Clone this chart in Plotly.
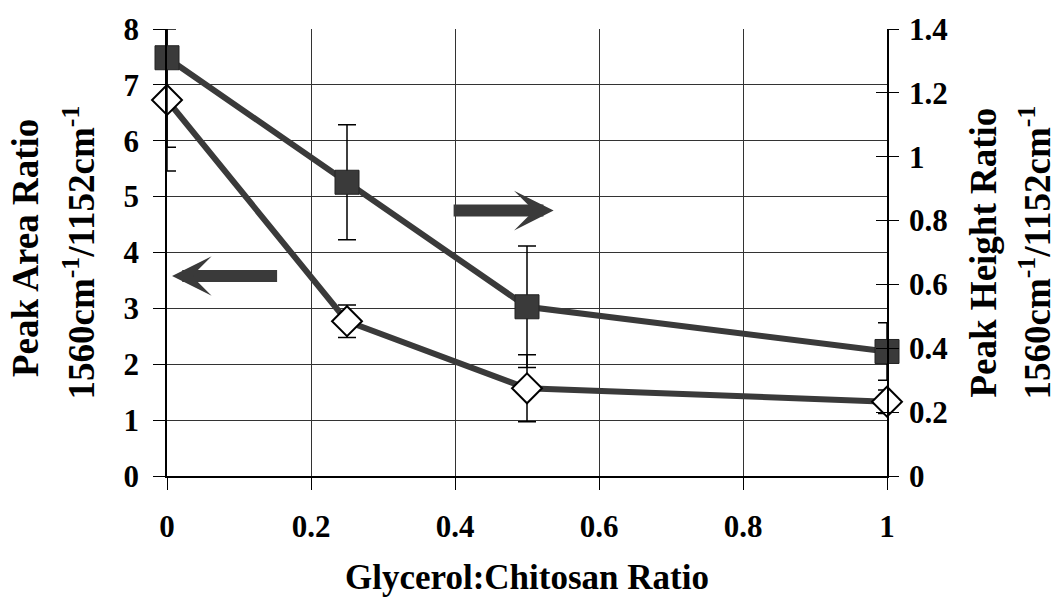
import plotly.graph_objects as go

# Data
ratio = [0, 0.25, 0.5, 1]
area_ratio = [6.73, 2.77, 1.57, 1.33]
area_err = [1.27, 0.29, 0.60, 0.21]
height_ratio = [1.31, 0.92, 0.53, 0.39]
height_err = [0.28, 0.18, 0.19, 0.09]

x_ticks = [0, 0.2, 0.4, 0.6, 0.8, 1]
x_tick_labels = ["0", "0.2", "0.4", "0.6", "0.8", "1"]

FONT = "Liberation Serif"
DARK = "#3a3a3a"

fig = go.Figure()

fig.add_trace(go.Scatter(
    x=ratio, y=area_ratio, mode="lines+markers", yaxis="y",
    line=dict(color=DARK, width=6),
    marker=dict(symbol="diamond", size=23, color="white",
                line=dict(color="black", width=2)),
    error_y=dict(type="data", array=area_err, visible=True,
                 color="black", thickness=1.5, width=9),
    cliponaxis=False, showlegend=False,
))

fig.add_trace(go.Scatter(
    x=ratio, y=height_ratio, mode="lines+markers", yaxis="y2",
    line=dict(color=DARK, width=6),
    marker=dict(symbol="square", size=24, color=DARK,
                line=dict(color="#222", width=1)),
    error_y=dict(type="data", array=height_err, visible=True,
                 color="black", thickness=1.5, width=9),
    cliponaxis=False, showlegend=False,
))

# invisible trace to activate the overlay axis carrying inner right ticks
fig.add_trace(go.Scatter(x=[0.5], y=[0.5], yaxis="y3", mode="markers",
                         marker=dict(opacity=0), hoverinfo="skip",
                         showlegend=False))

tickfont = dict(family=FONT, size=31, color="black", weight="bold")

fig.update_layout(
    width=1062, height=604,
    margin=dict(l=167, r=175, t=25, b=128),
    paper_bgcolor="white", plot_bgcolor="white",
    xaxis=dict(range=[0, 1], tickvals=x_ticks, ticktext=x_tick_labels,
               showgrid=True, gridcolor="#333", gridwidth=1,
               showline=True, linecolor="black", linewidth=1.5,
               ticks="outside", ticklen=12, tickcolor="black", tickwidth=1,
               tickfont=tickfont, ticklabelstandoff=10, zeroline=False),
    yaxis=dict(range=[0, 8], dtick=1, showgrid=True, gridcolor="#333",
               gridwidth=1, showline=True, linecolor="black", linewidth=1.5,
               ticks="outside", ticklen=12, tickcolor="black", tickwidth=1,
               tickfont=tickfont, ticklabelstandoff=8, zeroline=False,
               mirror=False),
    yaxis2=dict(range=[0, 1.4], dtick=0.2, overlaying="y", side="right",
                showgrid=False, showline=True, linecolor="black",
                linewidth=1.5, ticks="outside", ticklen=10,
                tickcolor="black", tickwidth=1, tickfont=tickfont,
                ticklabelstandoff=4, zeroline=False,
                tickformat="~g"),
    yaxis3=dict(range=[0, 1.4], dtick=0.2, overlaying="y", side="right",
                showgrid=False, showline=False, ticks="inside", ticklen=11,
                tickcolor="black", tickwidth=1, showticklabels=False,
                zeroline=False),
)

xtitlefont = dict(family=FONT, size=35, color="black", weight="bold")
ytitlefont = dict(family=FONT, size=37, color="black", weight="bold")

fig.add_annotation(text="Glycerol:Chitosan Ratio", xref="paper", yref="paper",
                   x=0.5, y=-0.228, xanchor="center", yanchor="middle",
                   showarrow=False, font=xtitlefont)

# rotated axis titles, one annotation per line: (text, pixel centre x, paper y)
PLOT_L, PLOT_W = 167, 720
y_titles = [
    ("Peak Area Ratio", 25, 0.51),
    ("1560cm<sup>-1</sup>/1152cm<sup>-1</sup>", 79, 0.50),
    ("Peak Height Ratio", 983, 0.50),
    ("1560cm<sup>-1</sup>/1152cm<sup>-1</sup>", 1035, 0.50),
]
for txt, px, py in y_titles:
    fig.add_annotation(text=txt, xref="paper", yref="paper",
                       x=(px - PLOT_L) / PLOT_W, y=py,
                       xanchor="center", yanchor="middle", textangle=-90,
                       showarrow=False, font=ytitlefont)

# direction arrows (left points to left axis, right to right axis)
left_arrow = dict(tip=(0.007, 3.58), tail=(0.155, 3.58))
right_arrow = dict(tip=(0.537, 4.75), tail=(0.396, 4.75))
for arr in (left_arrow, right_arrow):
    fig.add_annotation(x=arr["tip"][0], y=arr["tip"][1], xref="x", yref="y",
                       ax=arr["tail"][0], ay=arr["tail"][1], axref="x", ayref="y",
                       showarrow=True, arrowhead=3, arrowsize=0.55,
                       arrowwidth=12, arrowcolor=DARK, text="")

fig.write_html("out.html")
